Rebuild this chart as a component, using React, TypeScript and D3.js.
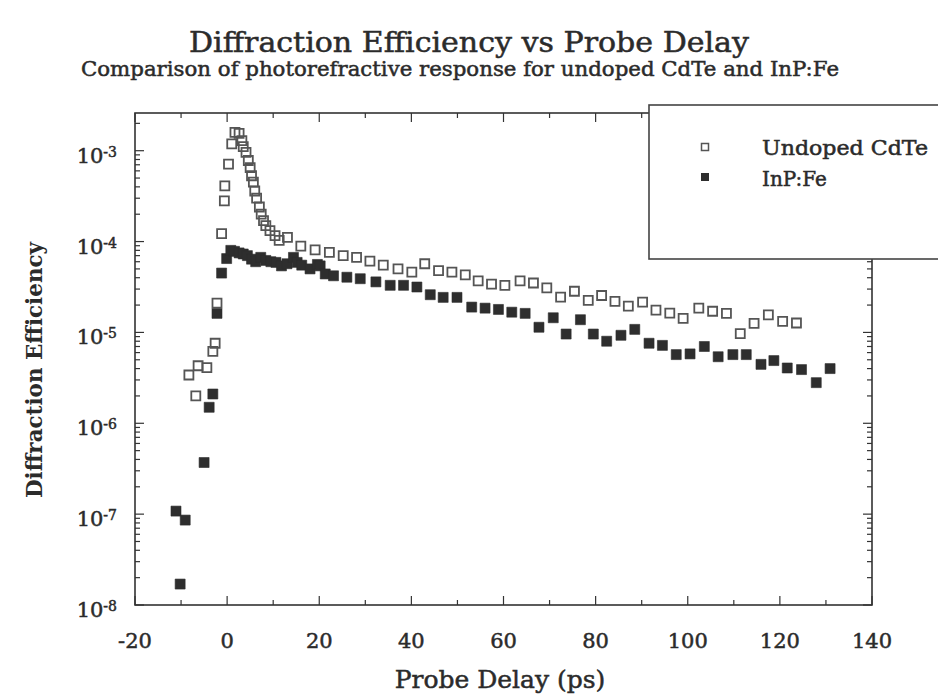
import React from 'react';
import * as d3 from 'd3';

// ---------- data ----------
const titleText = 'Diffraction Efficiency vs Probe Delay';
const subtitleText = 'Comparison of photorefractive response for undoped CdTe and InP:Fe';
const xAxisTitle = 'Probe Delay (ps)';
const yAxisTitle = 'Diffraction Efficiency';
const seriesNames = ['Undoped CdTe', 'InP:Fe'];

const xTickValues = [-20, 0, 20, 40, 60, 80, 100, 120, 140];
const yTickExponents = [-3, -4, -5, -6, -7, -8];

// Undoped CdTe (open squares): probe delay (ps)
const cdteDelay = [
  -8.3, -6.8, -6.3, -4.4, -3.1, -2.6, -2.2, -1.2, -0.6, -0.5, 0.3, 1.0,
  1.7, 2.6, 3.2, 3.5, 4.1, 4.6, 5.0, 5.3, 5.7, 6.0, 6.4, 7.0, 7.4, 7.9,
  8.4, 9.3, 10.4, 11.3, 13.1, 16.0, 19.1, 22.2, 25.2, 28.1, 31.0, 33.9,
  37.1, 40.1, 42.9, 45.9, 48.8, 51.7, 54.5, 57.4, 60.3, 63.6, 66.5, 69.4,
  72.4, 75.4, 78.4, 81.3, 84.2, 87.1, 90.2, 93.1, 96.1, 99.0, 102.4, 105.4,
  108.4, 111.4, 114.4, 117.5, 120.6, 123.6,
];
// Undoped CdTe: diffraction efficiency
const cdteEff = [
  3.4e-6, 2.0e-6, 4.3e-6, 4.1e-6, 6.2e-6, 7.6e-6, 2.1e-5, 1.22e-4, 2.8e-4, 4.1e-4, 7.1e-4, 1.19e-3,
  1.59e-3, 1.55e-3, 1.29e-3, 1.11e-3, 9.6e-4, 7.8e-4, 6.5e-4, 5.3e-4, 4.5e-4, 3.6e-4, 3.0e-4, 2.4e-4, 2.0e-4, 1.7e-4,
  1.5e-4, 1.32e-4, 1.16e-4, 1.03e-4, 1.11e-4, 8.9e-5, 8.1e-5, 7.6e-5, 7.0e-5, 6.7e-5, 6.1e-5, 5.5e-5,
  5.0e-5, 4.6e-5, 5.7e-5, 4.8e-5, 4.6e-5, 4.3e-5, 3.7e-5, 3.4e-5, 3.3e-5, 3.7e-5, 3.5e-5, 3.1e-5,
  2.45e-5, 2.84e-5, 2.25e-5, 2.55e-5, 2.2e-5, 1.95e-5, 2.15e-5, 1.76e-5, 1.63e-5, 1.43e-5, 1.85e-5, 1.71e-5,
  1.62e-5, 9.7e-6, 1.26e-5, 1.56e-5, 1.32e-5, 1.27e-5,
];

// InP:Fe (filled squares): probe delay (ps)
const inpDelay = [
  -11.1, -10.2, -9.1, -5.0, -3.9, -3.1, -2.2, -1.2, -0.1, 0.8, 1.6, 2.6,
  3.5, 4.4, 5.3, 6.2, 7.3, 8.4, 9.5, 10.6, 11.8, 13.0, 14.4, 15.2, 16.2,
  18.0, 19.6, 20.2, 21.3, 23.1, 26.0, 28.9, 32.3, 35.4, 38.3, 41.2, 44.1,
  46.9, 49.9, 53.1, 56.0, 58.9, 61.8, 64.7, 67.7, 70.8, 73.6, 76.7, 79.5,
  82.4, 85.5, 88.5, 91.6, 94.5, 97.5, 100.5, 103.6, 106.6, 109.8, 112.7,
  115.9, 118.7, 121.6, 124.7, 127.9, 130.9,
];
// InP:Fe: diffraction efficiency
const inpEff = [
  1.08e-7, 1.7e-8, 8.6e-8, 3.7e-7, 1.5e-6, 2.1e-6, 1.62e-5, 4.5e-5, 6.5e-5, 8.0e-5, 7.8e-5, 7.5e-5,
  7.3e-5, 7.0e-5, 6.4e-5, 6.0e-5, 6.7e-5, 6.2e-5, 6.0e-5, 5.9e-5, 5.4e-5, 5.7e-5, 6.7e-5, 5.9e-5, 5.5e-5,
  5.0e-5, 5.6e-5, 5.4e-5, 4.4e-5, 4.2e-5, 4.05e-5, 3.9e-5, 3.6e-5, 3.3e-5, 3.3e-5, 3.16e-5, 2.6e-5,
  2.43e-5, 2.43e-5, 1.9e-5, 1.85e-5, 1.79e-5, 1.67e-5, 1.62e-5, 1.14e-5, 1.45e-5, 9.6e-6, 1.38e-5, 9.6e-6,
  8.0e-6, 9.3e-6, 1.08e-5, 7.6e-6, 7.2e-6, 5.7e-6, 5.8e-6, 7.0e-6, 5.4e-6, 5.7e-6, 5.7e-6,
  4.45e-6, 4.9e-6, 4.06e-6, 3.9e-6, 2.8e-6, 4.0e-6,
];

// ---------- chart ----------
const FONT = '"DejaVu Serif", "Liberation Serif", serif';
const INK = '#2b2b2b';

export default function App() {
  const W = 938;
  const H = 696;
  const left = 135, right = 872, top = 113, bottom = 605;

  const x = d3.scaleLinear().domain([-20, 140]).range([left, right]);
  const y = d3.scaleLog().domain([1e-8, 2.6e-3]).range([bottom, top]);

  const cdte = cdteDelay.map((d, i) => ({ d, v: cdteEff[i] }));
  const inp = inpDelay.map((d, i) => ({ d, v: inpEff[i] }));

  // log ticks (major + minor)
  const logTicks: { v: number; major: boolean }[] = [];
  for (let n = -8; n <= -3; n++) {
    for (let k = 1; k <= 9; k++) {
      const v = k * Math.pow(10, n);
      if (v >= 1e-8 && v <= 2.6e-3) logTicks.push({ v, major: k === 1 });
    }
  }
  const xMinor = d3.range(-20, 141, 10);

  const filledSym = d3.symbol().type(d3.symbolSquare).size(100)() as string;
  const openSym = d3.symbol().type(d3.symbolSquare).size(81)() as string;
  const heavy = { stroke: INK, strokeWidth: 0.5 };

  return (
    <svg width={W} height={H} style={{ position: 'absolute', left: 0, top: 0, background: '#fff' }}
      fontFamily={FONT}>
      <rect x={0} y={0} width={W} height={H} fill="#fff" />
      {/* Titles */}
      <text x={469} y={52} textAnchor="middle" fontSize={28} fill={INK} {...heavy}
        textLength={560} lengthAdjust="spacingAndGlyphs">{titleText}</text>
      <text x={460} y={76} textAnchor="middle" fontSize={20} fill={INK} {...heavy}
        textLength={758} lengthAdjust="spacingAndGlyphs">{subtitleText}</text>

      {/* frame */}
      <rect x={left} y={top} width={right - left} height={bottom - top} fill="none" stroke="#333" strokeWidth={1.6} />

      {/* y ticks left & right */}
      {logTicks.map((t, i) => {
        const yy = y(t.v);
        const len = t.major ? 9 : 5;
        return (
          <g key={'yt' + i} stroke="#333" strokeWidth={1.2}>
            <line x1={left} x2={left + len} y1={yy} y2={yy} />
            <line x1={right} x2={right - len} y1={yy} y2={yy} />
          </g>
        );
      })}
      {/* x ticks bottom & top */}
      {xMinor.map((v, i) => {
        const xx = x(v);
        const len = v % 20 === 0 ? 9 : 5;
        return (
          <g key={'xt' + i} stroke="#333" strokeWidth={1.2}>
            <line x1={xx} x2={xx} y1={bottom} y2={bottom - len} />
            <line x1={xx} x2={xx} y1={top} y2={top + len} />
          </g>
        );
      })}

      {/* y tick labels */}
      {yTickExponents.map((e) => {
        const yy = y(Math.pow(10, e));
        return (
          <text key={'yl' + e} x={117} y={yy + 12} textAnchor="end" fontSize={21} fill={INK} {...heavy}>
            10<tspan fontSize={14} dy={-6}>{String(e)}</tspan>
          </text>
        );
      })}
      {/* x tick labels */}
      {xTickValues.map((v) => (
        <text key={'xl' + v} x={x(v)} y={648} textAnchor="middle" fontSize={21} fill={INK} {...heavy}>{String(v)}</text>
      ))}

      {/* axis titles */}
      <text x={500} y={688} textAnchor="middle" fontSize={25} fill={INK} {...heavy}>{xAxisTitle}</text>
      <text transform="translate(42,370) rotate(-90)" textAnchor="middle" fontSize={23} fontWeight="bold" fill={INK}
        textLength={256} lengthAdjust="spacingAndGlyphs">{yAxisTitle}</text>

      {/* data */}
      {inp.map((p, i) => (
        <path key={'i' + i} d={filledSym} transform={`translate(${x(p.d)},${y(p.v)})`}
          fill="#2e2e2e" stroke="#2e2e2e" strokeWidth={0.6} />
      ))}
      {cdte.map((p, i) => (
        <path key={'c' + i} d={openSym}
          transform={`translate(${x(p.d)},${y(p.v)})`}
          fill="none" stroke="#555" strokeWidth={1.8} />
      ))}

      {/* legend */}
      <rect x={649} y={105} width={320} height={154} fill="#fff" stroke="#444" strokeWidth={1.6} />
      <path d={d3.symbol().type(d3.symbolSquare).size(49)() as string} transform="translate(705,147)"
        fill="none" stroke="#555" strokeWidth={1.5} />
      <path d={d3.symbol().type(d3.symbolSquare).size(64)() as string} transform="translate(705,177)"
        fill="#2e2e2e" />
      <text x={762} y={155} fontSize={20} fill={INK} {...heavy} textLength={166} lengthAdjust="spacingAndGlyphs">{seriesNames[0]}</text>
      <text x={762} y={186} fontSize={20} fill={INK} {...heavy}>{seriesNames[1]}</text>
    </svg>
  );
}
